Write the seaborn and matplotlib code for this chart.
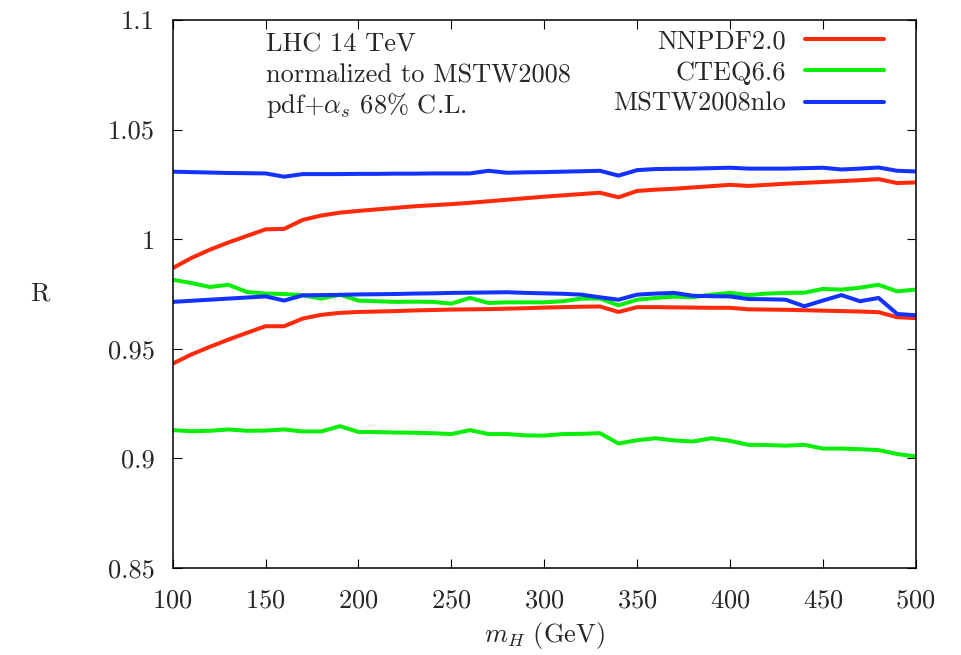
import numpy as np
import pandas as pd
import matplotlib
matplotlib.use('Agg')
import matplotlib.pyplot as plt
import seaborn as sns

# ---------- dados (razão R vs m_H) ----------
m_h = [100, 110, 120, 130, 140, 150, 160, 170, 180, 190, 200,
       210, 220, 230, 240, 250, 260, 270, 280, 290, 300,
       310, 320, 330, 340, 350, 360, 370, 380, 390, 400,
       410, 420, 430, 440, 450, 460, 470, 480, 490, 500]

nnpdf_up = [0.9868, 0.9914, 0.9952, 0.9985, 1.0015, 1.0045, 1.0047, 1.0088, 1.0108, 1.0121, 1.0129,
            1.0136, 1.0143, 1.0150, 1.0155, 1.0160, 1.0166, 1.0173, 1.0180, 1.0187, 1.0194,
            1.0200, 1.0206, 1.0212, 1.0191, 1.0220, 1.0226, 1.0230, 1.0236, 1.0242, 1.0248,
            1.0243, 1.0248, 1.0253, 1.0257, 1.0261, 1.0265, 1.0269, 1.0274, 1.0256, 1.0259]
nnpdf_lo = [0.9432, 0.9474, 0.9509, 0.9542, 0.9573, 0.9603, 0.9603, 0.9638, 0.9655, 0.9664, 0.9668,
            0.9670, 0.9672, 0.9675, 0.9677, 0.9679, 0.9680, 0.9681, 0.9683, 0.9685, 0.9688,
            0.9690, 0.9692, 0.9693, 0.9668, 0.9690, 0.9690, 0.9689, 0.9688, 0.9687, 0.9687,
            0.9680, 0.9679, 0.9678, 0.9676, 0.9674, 0.9672, 0.9670, 0.9667, 0.9644, 0.9640]
cteq_up = [0.9815, 0.9800, 0.9782, 0.9792, 0.9759, 0.9752, 0.9750, 0.9744, 0.9729, 0.9747, 0.9720,
           0.9717, 0.9714, 0.9715, 0.9714, 0.9706, 0.9732, 0.9709, 0.9712, 0.9712, 0.9712,
           0.9717, 0.9729, 0.9729, 0.9698, 0.9724, 0.9732, 0.9738, 0.9735, 0.9747, 0.9755,
           0.9745, 0.9752, 0.9755, 0.9756, 0.9773, 0.9770, 0.9779, 0.9792, 0.9762, 0.9770]
cteq_lo = [0.9129, 0.9124, 0.9126, 0.9132, 0.9126, 0.9127, 0.9132, 0.9123, 0.9123, 0.9147, 0.9121,
           0.9120, 0.9118, 0.9117, 0.9115, 0.9111, 0.9129, 0.9111, 0.9111, 0.9105, 0.9104,
           0.9111, 0.9112, 0.9115, 0.9068, 0.9083, 0.9092, 0.9082, 0.9077, 0.9092, 0.9080,
           0.9062, 0.9061, 0.9058, 0.9062, 0.9045, 0.9045, 0.9042, 0.9038, 0.9020, 0.9009]
mstw_up = [1.0308, 1.0306, 1.0304, 1.0302, 1.0301, 1.0300, 1.0285, 1.0297, 1.0297, 1.0297, 1.0298,
           1.0298, 1.0299, 1.0299, 1.0300, 1.0300, 1.0300, 1.0312, 1.0303, 1.0305, 1.0306,
           1.0308, 1.0310, 1.0312, 1.0290, 1.0315, 1.0320, 1.0321, 1.0322, 1.0324, 1.0326,
           1.0322, 1.0322, 1.0322, 1.0324, 1.0326, 1.0318, 1.0322, 1.0327, 1.0312, 1.0309]
mstw_lo = [0.9714, 0.9719, 0.9724, 0.9729, 0.9734, 0.9739, 0.9720, 0.9744, 0.9745, 0.9746, 0.9748,
           0.9749, 0.9750, 0.9752, 0.9753, 0.9755, 0.9756, 0.9757, 0.9758, 0.9755, 0.9753,
           0.9751, 0.9747, 0.9735, 0.9724, 0.9747, 0.9752, 0.9755, 0.9742, 0.9740, 0.9739,
           0.9727, 0.9726, 0.9724, 0.9694, 0.9720, 0.9745, 0.9717, 0.9732, 0.9659, 0.9653]

pdfs   = ['NNPDF2.0', 'CTEQ6.6', 'MSTW2008nlo']
cores  = {'NNPDF2.0': '#ff2a0a', 'CTEQ6.6': '#0aee0a', 'MSTW2008nlo': '#1432ff'}
bandas = {'NNPDF2.0': (nnpdf_up, nnpdf_lo),
          'CTEQ6.6': (cteq_up, cteq_lo),
          'MSTW2008nlo': (mstw_up, mstw_lo)}

frames = []
for p in pdfs:
    for nome, vals in zip(['up', 'lo'], bandas[p]):
        frames.append(pd.DataFrame({'m_H': m_h, 'R': vals, 'pdf': p, 'banda': nome}))
df = pd.concat(frames, ignore_index=True)

# ---------- estilo ----------
FS = 19
sns.set_style('ticks')
plt.rcParams['font.family'] = ['cmr10']
plt.rcParams['mathtext.fontset'] = 'cm'
plt.rcParams['axes.formatter.use_mathtext'] = True
plt.rcParams['font.size'] = FS

fig = plt.figure(figsize=(9.61, 6.55), dpi=100)
ax = fig.add_axes([0.1797, 0.1328, 0.7732, 0.8367])

sns.lineplot(data=df, x='m_H', y='R', hue='pdf', hue_order=pdfs, units='banda',
             estimator=None, palette=cores, linewidth=2.9, ax=ax, legend=False)

ax.set_xlim(100, 500)
ax.set_ylim(0.85, 1.1)
ax.set_xticks([100, 150, 200, 250, 300, 350, 400, 450, 500])
ax.set_yticks([0.85, 0.9, 0.95, 1.0, 1.05, 1.1])
ax.set_yticklabels(['0.85', '0.9', '0.95', '1', '1.05', '1.1'])
ax.tick_params(direction='in', length=6.5, width=0.8, top=True, right=True,
               labelsize=FS, color='black')
ax.tick_params(axis='y', pad=13)
ax.tick_params(axis='x', pad=15)
for s in ax.spines.values():
    s.set_visible(True)
    s.set_linewidth(1.1)
    s.set_color('black')

ax.set_xlabel('$m_H$ (GeV)', fontsize=FS, va='center')
ax.set_ylabel('R', fontsize=FS, rotation=0, va='center', ha='center')
ax.xaxis.set_label_coords(0.5, -0.1225)
ax.yaxis.set_label_coords(-0.1786, 0.5)

# texto à esquerda
tr = ax.get_xaxis_transform()
ax.text(150, 0.9433, 'LHC 14 TeV', transform=tr, va='baseline', fontsize=FS)
ax.text(150, 0.8867, 'normalized to MSTW2008', transform=tr, va='baseline', fontsize=FS)
ax.text(150, 0.8300, r'pdf+$\alpha_s$ 68% C.L.', transform=tr, va='baseline', fontsize=FS)

# legenda estilo gnuplot (texto à direita alinhado, linha depois)
handles = [plt.Line2D([], [], color=cores[p], linewidth=2.9) for p in pdfs]
ax.legend(handles, pdfs, loc='upper right', bbox_to_anchor=(0.9573, 0.982),
          markerfirst=False, frameon=False, borderpad=0, borderaxespad=0,
          handlelength=3.0, handletextpad=0.72, labelspacing=0.28, fontsize=FS)

fig.savefig('out.png', dpi=100)
